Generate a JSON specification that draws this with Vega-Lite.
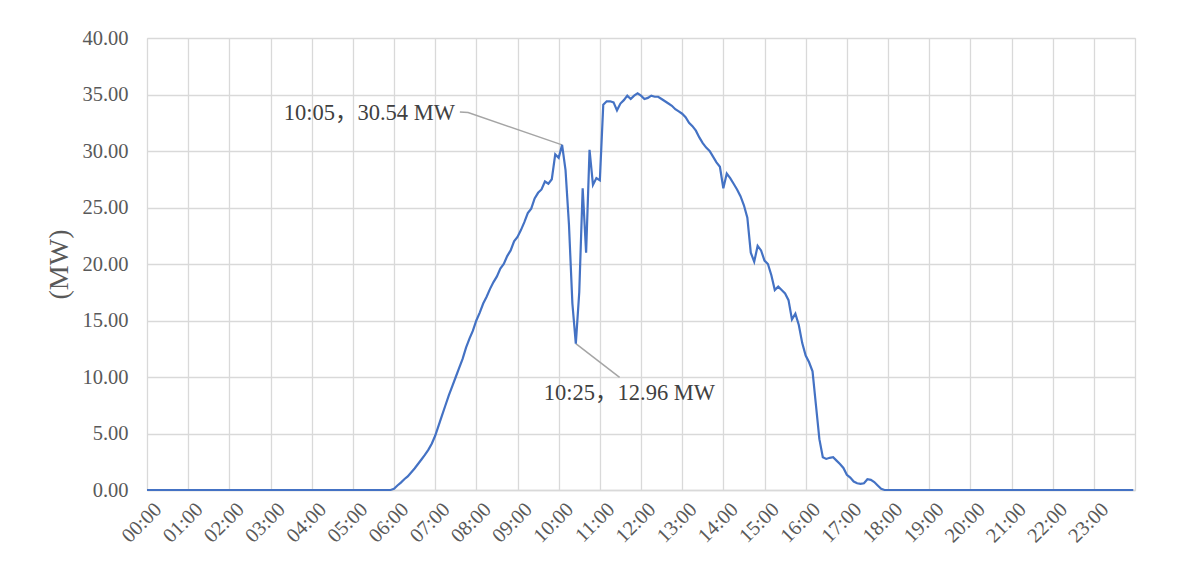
{
  "$schema": "https://vega.github.io/schema/vega-lite/v6.json",
  "autosize": {"type": "none"},
  "width": 988,
  "height": 452,
  "padding": {"left": 147, "top": 38, "right": 42, "bottom": 80},
  "background": "#ffffff",
  "config": {
    "view": {"stroke": "#d9d9d9", "strokeWidth": 1},
    "font": "Liberation Serif"
  },
  "datasets": {
    "power": [
      {"hour": 0, "mw": 0},
      {"hour": 5.8333, "mw": 0},
      {"hour": 5.9167, "mw": 0},
      {"hour": 6.0, "mw": 0.1},
      {"hour": 6.0833, "mw": 0.4},
      {"hour": 6.1667, "mw": 0.65},
      {"hour": 6.25, "mw": 0.95},
      {"hour": 6.3333, "mw": 1.2},
      {"hour": 6.4167, "mw": 1.55},
      {"hour": 6.5, "mw": 1.9},
      {"hour": 6.5833, "mw": 2.3},
      {"hour": 6.6667, "mw": 2.7},
      {"hour": 6.75, "mw": 3.1},
      {"hour": 6.8333, "mw": 3.55},
      {"hour": 6.9167, "mw": 4.1},
      {"hour": 7.0, "mw": 4.8},
      {"hour": 7.0833, "mw": 5.7},
      {"hour": 7.1667, "mw": 6.6},
      {"hour": 7.25, "mw": 7.5},
      {"hour": 7.3333, "mw": 8.4},
      {"hour": 7.4167, "mw": 9.2},
      {"hour": 7.5, "mw": 10.0},
      {"hour": 7.5833, "mw": 10.8},
      {"hour": 7.6667, "mw": 11.6},
      {"hour": 7.75, "mw": 12.6},
      {"hour": 7.8333, "mw": 13.4},
      {"hour": 7.9167, "mw": 14.1},
      {"hour": 8.0, "mw": 15.0},
      {"hour": 8.0833, "mw": 15.7},
      {"hour": 8.1667, "mw": 16.5},
      {"hour": 8.25, "mw": 17.1},
      {"hour": 8.3333, "mw": 17.8},
      {"hour": 8.4167, "mw": 18.4},
      {"hour": 8.5, "mw": 18.9},
      {"hour": 8.5833, "mw": 19.6},
      {"hour": 8.6667, "mw": 20.0},
      {"hour": 8.75, "mw": 20.7},
      {"hour": 8.8333, "mw": 21.2},
      {"hour": 8.9167, "mw": 22.0},
      {"hour": 9.0, "mw": 22.4},
      {"hour": 9.0833, "mw": 23.0},
      {"hour": 9.1667, "mw": 23.7},
      {"hour": 9.25, "mw": 24.5},
      {"hour": 9.3333, "mw": 24.9},
      {"hour": 9.4167, "mw": 25.8},
      {"hour": 9.5, "mw": 26.3},
      {"hour": 9.5833, "mw": 26.6},
      {"hour": 9.6667, "mw": 27.3},
      {"hour": 9.75, "mw": 27.1},
      {"hour": 9.8333, "mw": 27.5},
      {"hour": 9.9167, "mw": 29.7},
      {"hour": 10.0, "mw": 29.4},
      {"hour": 10.0833, "mw": 30.54},
      {"hour": 10.1667, "mw": 28.3},
      {"hour": 10.25, "mw": 23.5},
      {"hour": 10.3333, "mw": 16.5},
      {"hour": 10.4167, "mw": 12.96},
      {"hour": 10.5, "mw": 17.5},
      {"hour": 10.5833, "mw": 26.7},
      {"hour": 10.6667, "mw": 21.0},
      {"hour": 10.75, "mw": 30.1},
      {"hour": 10.8333, "mw": 27.0},
      {"hour": 10.9167, "mw": 27.6},
      {"hour": 11.0, "mw": 27.4},
      {"hour": 11.0833, "mw": 34.1},
      {"hour": 11.1667, "mw": 34.4},
      {"hour": 11.25, "mw": 34.4},
      {"hour": 11.3333, "mw": 34.3},
      {"hour": 11.4167, "mw": 33.6},
      {"hour": 11.5, "mw": 34.2},
      {"hour": 11.5833, "mw": 34.5},
      {"hour": 11.6667, "mw": 34.9},
      {"hour": 11.75, "mw": 34.6},
      {"hour": 11.8333, "mw": 34.9},
      {"hour": 11.9167, "mw": 35.1},
      {"hour": 12.0, "mw": 34.9},
      {"hour": 12.0833, "mw": 34.6},
      {"hour": 12.1667, "mw": 34.7},
      {"hour": 12.25, "mw": 34.9},
      {"hour": 12.3333, "mw": 34.8},
      {"hour": 12.4167, "mw": 34.8},
      {"hour": 12.5, "mw": 34.6},
      {"hour": 12.5833, "mw": 34.4},
      {"hour": 12.6667, "mw": 34.2},
      {"hour": 12.75, "mw": 34.0},
      {"hour": 12.8333, "mw": 33.7},
      {"hour": 12.9167, "mw": 33.5},
      {"hour": 13.0, "mw": 33.3},
      {"hour": 13.0833, "mw": 33.0},
      {"hour": 13.1667, "mw": 32.5},
      {"hour": 13.25, "mw": 32.2},
      {"hour": 13.3333, "mw": 31.8},
      {"hour": 13.4167, "mw": 31.2},
      {"hour": 13.5, "mw": 30.7},
      {"hour": 13.5833, "mw": 30.3},
      {"hour": 13.6667, "mw": 30.0},
      {"hour": 13.75, "mw": 29.5},
      {"hour": 13.8333, "mw": 29.0},
      {"hour": 13.9167, "mw": 28.6},
      {"hour": 14.0, "mw": 26.7},
      {"hour": 14.0833, "mw": 28.0},
      {"hour": 14.1667, "mw": 27.6},
      {"hour": 14.25, "mw": 27.1},
      {"hour": 14.3333, "mw": 26.6},
      {"hour": 14.4167, "mw": 26.0},
      {"hour": 14.5, "mw": 25.2},
      {"hour": 14.5833, "mw": 24.1},
      {"hour": 14.6667, "mw": 21.0},
      {"hour": 14.75, "mw": 20.2},
      {"hour": 14.8333, "mw": 21.6},
      {"hour": 14.9167, "mw": 21.2},
      {"hour": 15.0, "mw": 20.3},
      {"hour": 15.0833, "mw": 20.0},
      {"hour": 15.1667, "mw": 19.0},
      {"hour": 15.25, "mw": 17.7},
      {"hour": 15.3333, "mw": 18.0},
      {"hour": 15.4167, "mw": 17.7},
      {"hour": 15.5, "mw": 17.4},
      {"hour": 15.5833, "mw": 16.8},
      {"hour": 15.6667, "mw": 15.1},
      {"hour": 15.75, "mw": 15.6},
      {"hour": 15.8333, "mw": 14.6},
      {"hour": 15.9167, "mw": 13.0},
      {"hour": 16.0, "mw": 11.9},
      {"hour": 16.0833, "mw": 11.3},
      {"hour": 16.1667, "mw": 10.5},
      {"hour": 16.25, "mw": 7.5},
      {"hour": 16.3333, "mw": 4.5},
      {"hour": 16.4167, "mw": 2.9},
      {"hour": 16.5, "mw": 2.75},
      {"hour": 16.5833, "mw": 2.85},
      {"hour": 16.6667, "mw": 2.9},
      {"hour": 16.75, "mw": 2.6},
      {"hour": 16.8333, "mw": 2.3},
      {"hour": 16.9167, "mw": 1.95},
      {"hour": 17.0, "mw": 1.35},
      {"hour": 17.0833, "mw": 1.1},
      {"hour": 17.1667, "mw": 0.75},
      {"hour": 17.25, "mw": 0.6},
      {"hour": 17.3333, "mw": 0.55},
      {"hour": 17.4167, "mw": 0.6},
      {"hour": 17.5, "mw": 0.95},
      {"hour": 17.5833, "mw": 0.9},
      {"hour": 17.6667, "mw": 0.7},
      {"hour": 17.75, "mw": 0.4},
      {"hour": 17.8333, "mw": 0.1},
      {"hour": 17.9167, "mw": 0},
      {"hour": 18.0, "mw": 0},
      {"hour": 23.9583, "mw": 0}
    ],
    "leaders": [
      {"leader": "peak", "hour": 7.6, "mw": 33.45},
      {"leader": "peak", "hour": 7.8, "mw": 33.4},
      {"leader": "peak", "hour": 10.0833, "mw": 30.54},
      {"leader": "dip", "hour": 10.4167, "mw": 12.96},
      {"leader": "dip", "hour": 11.48, "mw": 9.97}
    ],
    "notes": [
      {"label": "10:05，30.54 MW", "hour": 5.4, "mw": 33.4},
      {"label": "10:25，12.96 MW", "hour": 11.72, "mw": 8.62}
    ]
  },
  "layer": [
    {
      "data": {"name": "leaders"},
      "mark": {"type": "line", "color": "#a5a5a5", "strokeWidth": 1.5},
      "encoding": {
        "x": {"field": "hour", "type": "quantitative", "scale": {"domain": [0, 24], "nice": false, "zero": false}},
        "y": {"field": "mw", "type": "quantitative"},
        "detail": {"field": "leader"}
      }
    },
    {
      "data": {"name": "power"},
      "mark": {"type": "line", "color": "#4472c4", "strokeWidth": 2.2},
      "encoding": {
        "x": {
          "field": "hour",
          "type": "quantitative",
          "scale": {"domain": [0, 24], "nice": false, "zero": false},
          "axis": {
            "title": null,
            "values": [0, 1, 2, 3, 4, 5, 6, 7, 8, 9, 10, 11, 12, 13, 14, 15, 16, 17, 18, 19, 20, 21, 22, 23, 24],
            "labelExpr": "datum.value >= 24 ? '' : (datum.value < 10 ? '0' : '') + datum.value + ':00'",
            "labelAngle": -45,
            "labelAlign": "right",
            "labelBaseline": "top",
            "labelPadding": 9,
            "labelOffset": 4,
            "labelFontSize": 20.5,
            "labelColor": "#595959",
            "labelFont": "Liberation Serif",
            "labelOverlap": false,
            "labelFlush": false,
            "ticks": false,
            "grid": true,
            "gridColor": "#d9d9d9",
            "gridWidth": 1.3,
            "domainColor": "#d9d9d9",
            "domainWidth": 1.3
          }
        },
        "y": {
          "field": "mw",
          "type": "quantitative",
          "scale": {"domain": [0, 40], "nice": false},
          "axis": {
            "title": "(MW)",
            "titleFont": "Liberation Serif",
            "titleFontSize": 28,
            "titleFontWeight": "normal",
            "titleColor": "#595959",
            "titleAngle": -90,
            "titleX": -88,
            "titleY": 226,
            "titleAlign": "center",
            "titleBaseline": "middle",
            "values": [0, 5, 10, 15, 20, 25, 30, 35, 40],
            "format": ".2f",
            "labelFontSize": 20.5,
            "labelColor": "#595959",
            "labelFont": "Liberation Serif",
            "labelPadding": 19,
            "ticks": false,
            "domain": false,
            "grid": true,
            "gridColor": "#d9d9d9",
            "gridWidth": 1.3
          }
        }
      }
    },
    {
      "data": {"name": "notes"},
      "mark": {"type": "text", "font": "Liberation Serif, Noto Sans CJK SC", "fontSize": 22.5, "color": "#404040", "baseline": "middle", "align": "center"},
      "encoding": {
        "x": {"field": "hour", "type": "quantitative"},
        "y": {"field": "mw", "type": "quantitative"},
        "text": {"field": "label"}
      }
    }
  ]
}
